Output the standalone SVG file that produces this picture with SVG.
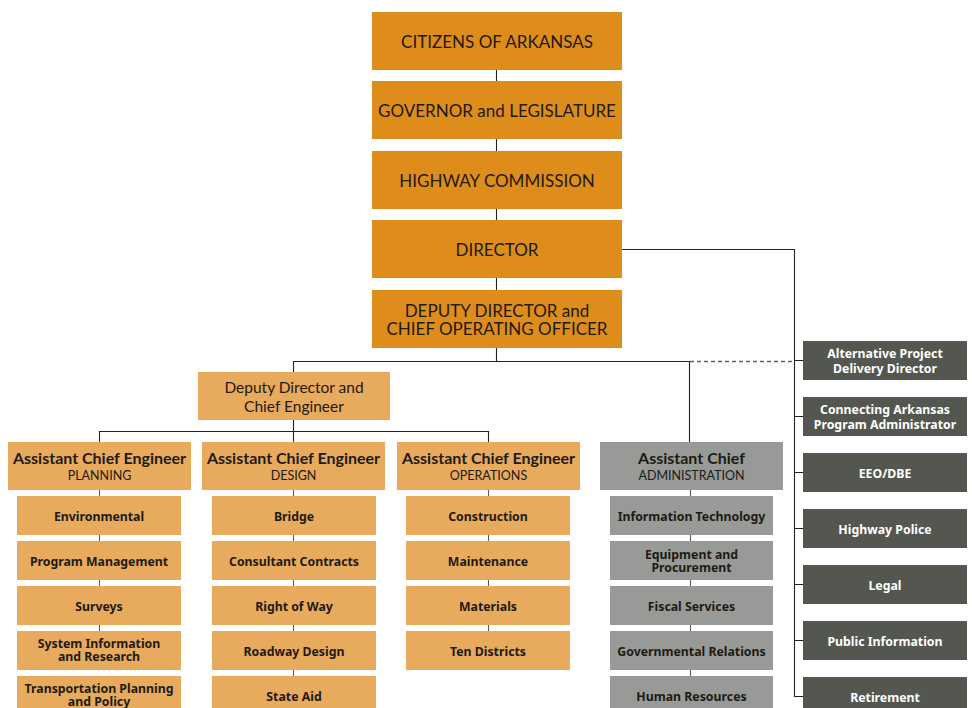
<svg xmlns="http://www.w3.org/2000/svg" width="972" height="708" viewBox="0 0 972 708">
<style>
.top{fill:#DE8C1A}
.lt{fill:#E8AA5C}
.gr{fill:#979A96}
.dk{fill:#535750}
text{font-family:Lato,"Noto Sans","Liberation Sans",sans-serif;text-anchor:middle;fill:#1E1A14}
.t1{font-size:17px}
.t2{font-size:15.5px}
.h{font-size:16px;font-weight:700}
.s{font-size:12.5px}
.b{font-family:"Noto Sans","Liberation Sans",sans-serif;font-size:12.3px;font-weight:700}
.w{fill:#FFFFFF}
.ln{fill:none;stroke:#222222;stroke-width:1.1}
.ln2{fill:none;stroke:#5A5A5A;stroke-width:1.1}
.dash{fill:none;stroke:#5F5F5F;stroke-width:1.3;stroke-dasharray:4 3}
</style>
<rect width="972" height="708" fill="#FFFFFF"/>
<g id="connectors">
<path class="ln" d="M496.5 70V290M496.5 348V361M622 249.5H794.5V696.5H803M794.5 360.5H803M794.5 416.5H803M794.5 472.5H803M794.5 528.5H803M794.5 584.5H803M794.5 640.5H803"/>
<path class="ln" d="M293.5 361.5H690M293.5 361V372M689.5 361V442M293.5 420V431M99.5 431.5H488M99.5 431V442M293.5 431V442M488.5 431V442"/>
<path class="dash" d="M690 361.5H794"/>
<path class="ln2" d="M99.5 490V670M293.5 490V676M488.5 490V631M690.5 490V676"/>
</g>
<g id="citizens"><rect class="top" x="372" y="12" width="250" height="58"/><text class="t1" x="497" y="47.5">CITIZENS OF ARKANSAS</text></g>
<g id="governor"><rect class="top" x="372" y="81" width="250" height="58"/><text class="t1" x="497" y="116.5">GOVERNOR and LEGISLATURE</text></g>
<g id="commission"><rect class="top" x="372" y="151" width="250" height="58"/><text class="t1" x="497" y="186.5">HIGHWAY COMMISSION</text></g>
<g id="director"><rect class="top" x="372" y="220" width="250" height="58"/><text class="t1" x="497" y="255.5">DIRECTOR</text></g>
<g id="deputy"><rect class="top" x="372" y="290" width="250" height="58"/><text class="t1" x="497" y="317">DEPUTY DIRECTOR and</text><text class="t1" x="497" y="335">CHIEF OPERATING OFFICER</text></g>
<g id="chief-engineer"><rect class="lt" x="198" y="372" width="192" height="48"/><text class="t2" x="294" y="393">Deputy Director and</text><text class="t2" x="294" y="412">Chief Engineer</text></g>
<g id="ace-planning"><rect class="lt" x="8" y="442" width="183" height="48"/><text class="h" x="99.5" y="464">Assistant Chief Engineer</text><text class="s" x="99.5" y="480">PLANNING</text></g>
<g id="ace-design"><rect class="lt" x="202" y="442" width="183" height="48"/><text class="h" x="293.5" y="464">Assistant Chief Engineer</text><text class="s" x="293.5" y="480">DESIGN</text></g>
<g id="ace-operations"><rect class="lt" x="397" y="442" width="183" height="48"/><text class="h" x="488.5" y="464">Assistant Chief Engineer</text><text class="s" x="488.5" y="480">OPERATIONS</text></g>
<g id="ac-admin"><rect class="gr" x="600" y="442" width="183" height="48"/><text class="h" x="691.5" y="464">Assistant Chief</text><text class="s" x="691.5" y="480">ADMINISTRATION</text></g>
<g id="environmental"><rect class="lt" x="17" y="496" width="164" height="39"/><text class="b" x="99" y="521">Environmental</text></g>
<g id="program-management"><rect class="lt" x="17" y="541" width="164" height="39"/><text class="b" x="99" y="566">Program Management</text></g>
<g id="surveys"><rect class="lt" x="17" y="586" width="164" height="39"/><text class="b" x="99" y="611">Surveys</text></g>
<g id="system-info"><rect class="lt" x="17" y="631" width="164" height="39"/><text class="b" x="99" y="647.5">System Information</text><text class="b" x="99" y="660.5">and Research</text></g>
<g id="transportation-planning"><rect class="lt" x="17" y="676" width="164" height="39"/><text class="b" x="99" y="693">Transportation Planning</text><text class="b" x="99" y="706">and Policy</text></g>
<g id="bridge"><rect class="lt" x="212" y="496" width="164" height="39"/><text class="b" x="294" y="521">Bridge</text></g>
<g id="consultant-contracts"><rect class="lt" x="212" y="541" width="164" height="39"/><text class="b" x="294" y="566">Consultant Contracts</text></g>
<g id="right-of-way"><rect class="lt" x="212" y="586" width="164" height="39"/><text class="b" x="294" y="611">Right of Way</text></g>
<g id="roadway-design"><rect class="lt" x="212" y="631" width="164" height="39"/><text class="b" x="294" y="656">Roadway Design</text></g>
<g id="state-aid"><rect class="lt" x="212" y="676" width="164" height="39"/><text class="b" x="294" y="701">State Aid</text></g>
<g id="construction"><rect class="lt" x="406" y="496" width="164" height="39"/><text class="b" x="488" y="521">Construction</text></g>
<g id="maintenance"><rect class="lt" x="406" y="541" width="164" height="39"/><text class="b" x="488" y="566">Maintenance</text></g>
<g id="materials"><rect class="lt" x="406" y="586" width="164" height="39"/><text class="b" x="488" y="611">Materials</text></g>
<g id="ten-districts"><rect class="lt" x="406" y="631" width="164" height="39"/><text class="b" x="488" y="656">Ten Districts</text></g>
<g id="information-technology"><rect class="gr" x="610" y="496" width="163" height="39"/><text class="b" x="691.5" y="521">Information Technology</text></g>
<g id="equipment"><rect class="gr" x="610" y="541" width="163" height="39"/><text class="b" x="691.5" y="559">Equipment and</text><text class="b" x="691.5" y="572">Procurement</text></g>
<g id="fiscal"><rect class="gr" x="610" y="586" width="163" height="39"/><text class="b" x="691.5" y="611">Fiscal Services</text></g>
<g id="governmental"><rect class="gr" x="610" y="631" width="163" height="39"/><text class="b" x="691.5" y="656">Governmental Relations</text></g>
<g id="human-resources"><rect class="gr" x="610" y="676" width="163" height="39"/><text class="b" x="691.5" y="701">Human Resources</text></g>
<g id="alt-project"><rect class="dk" x="803" y="341" width="164" height="39"/><text class="b w" x="885" y="358">Alternative Project</text><text class="b w" x="885" y="372.5">Delivery Director</text></g>
<g id="connecting-arkansas"><rect class="dk" x="803" y="397" width="164" height="39"/><text class="b w" x="885" y="414">Connecting Arkansas</text><text class="b w" x="885" y="428.5">Program Administrator</text></g>
<g id="eeo"><rect class="dk" x="803" y="453" width="164" height="39"/><text class="b w" x="885" y="478">EEO/DBE</text></g>
<g id="highway-police"><rect class="dk" x="803" y="509" width="164" height="39"/><text class="b w" x="885" y="533.5">Highway Police</text></g>
<g id="legal"><rect class="dk" x="803" y="565" width="164" height="39"/><text class="b w" x="885" y="589.5">Legal</text></g>
<g id="public-information"><rect class="dk" x="803" y="621" width="164" height="39"/><text class="b w" x="885" y="645.5">Public Information</text></g>
<g id="retirement"><rect class="dk" x="803" y="677" width="164" height="39"/><text class="b w" x="885" y="701.5">Retirement</text></g>
</svg>
